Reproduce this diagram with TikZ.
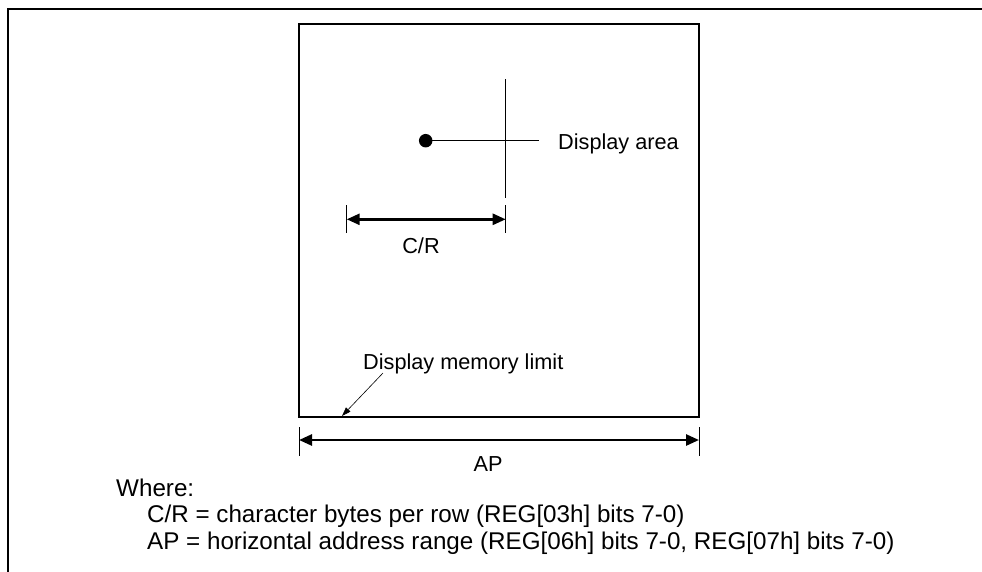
\documentclass[tikz,border=0pt]{standalone}
\usepackage{fontspec}
\setmainfont{Liberation Sans}
\usetikzlibrary{arrows.meta}
\begin{document}
\begin{tikzpicture}[x=1pt,y=-1pt,
  lbl/.style={inner sep=0pt, font=\fontsize{21.7}{26}\selectfont},
  note/.style={inner sep=0pt, font=\fontsize{24.2}{27}\selectfont, anchor=base west},
  dim/.style={line width=2.6pt, {Triangle[length=13pt,width=11pt]}-{Triangle[length=13pt,width=11pt]}},
  tick/.style={line width=0.9pt},
  thin/.style={line width=0.9pt}]
\useasboundingbox (0,0) rectangle (982,571);
% outer frame
\coordinate (fr1) at (983,8.5);
\coordinate (fr2) at (7.5,8.5);
\coordinate (fr3) at (7.5,572);
\draw[line width=2pt] (fr1) -- (fr2) -- (fr3);
% memory box
\node[draw, line width=1.3pt, minimum width=400pt, minimum height=393pt, inner sep=0pt] (mem) at (499,220.5) {};
% display area marker
\coordinate (vt) at (505.7,79);
\coordinate (vb) at (505.7,198);
\draw[thin] (vt) -- (vb);
\node[circle, fill=black, inner sep=0pt, minimum size=13.5pt] (dot) at (425.7,140.7) {};
\coordinate (le) at (538.7,140.7);
\draw[thin] (dot.center) -- (le);
\node[lbl, anchor=base west] (da) at (558,149) {Display area};
% C/R dimension
\coordinate (c1t) at (346.7,205); \coordinate (c1b) at (346.7,233);
\coordinate (c2t) at (505.7,205); \coordinate (c2b) at (505.7,233);
\draw[tick] (c1t) -- (c1b);
\draw[tick] (c2t) -- (c2b);
\coordinate (ca) at (346.7,219.3); \coordinate (cb) at (505.7,219.3);
\draw[dim] (ca) -- (cb);
\node[lbl, anchor=base] (crl) at (421,253) {C/R};
% display memory limit
\node[lbl, anchor=base west] (dml) at (363,369.3) {Display memory limit};
\coordinate (dmlf) at (383,373);
\coordinate (dmlt) at (342,416);
\draw[line width=0.6pt, -{Triangle[length=9pt,width=6pt]}] (dmlf) -- (dmlt);
% AP dimension
\coordinate (a1t) at (299,427); \coordinate (a1b) at (299,456);
\coordinate (a2t) at (699,427); \coordinate (a2b) at (699,456);
\draw[tick] (a1t) -- (a1b);
\draw[tick] (a2t) -- (a2b);
\coordinate (aa) at (299,440); \coordinate (ab) at (699,440);
\draw[dim] (aa) -- (ab);
\node[lbl, anchor=base] (apl) at (488,471) {AP};
% notes
\node[note] (wh) at (116,496) {Where:};
\node[note] (n1) at (147,522.5) {C/R = character bytes per row (REG[03h] bits 7-0)};
\node[note] (n2) at (147,549.5) {AP = horizontal address range (REG[06h] bits 7-0, REG[07h] bits 7-0)};
\end{tikzpicture}
\end{document}
